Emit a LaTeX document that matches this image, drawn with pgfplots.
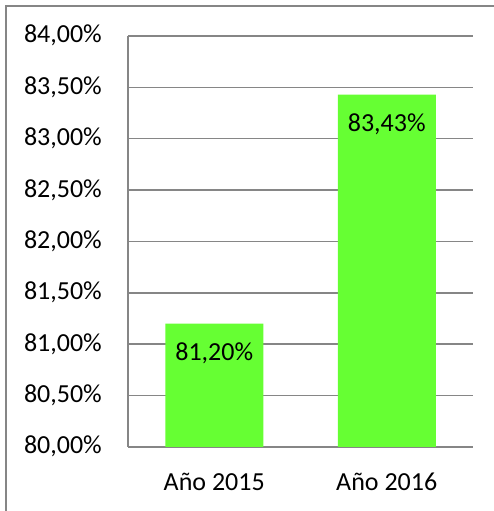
\documentclass[border=0pt]{standalone}
\usepackage{fontspec}
\setmainfont{Carlito}
\usepackage{pgfplots}
\pgfplotsset{compat=1.18}
\definecolor{barg}{RGB}{102,255,51}
\definecolor{gridg}{RGB}{134,134,134}
\begin{document}
\fontsize{26pt}{31pt}\selectfont
\begin{tikzpicture}[x=1pt,y=1pt]
\useasboundingbox (0,0) rectangle (494,511);
\draw[gridg, line width=1.5pt] (6,-5) -- (6,505) -- (500,505);
\begin{axis}[
  at={(128pt,64pt)}, anchor=south west,
  scale only axis, width=345pt, height=411pt,
  xmin=-0.5, xmax=1.5, ymin=80, ymax=84,
  ybar, bar width=98pt,
  ytick={80,80.5,81,81.5,82,82.5,83,83.5,84},
  xtick={0,1}, xticklabels={Año 2015, Año 2016},
  axis lines*=left,
  axis line style={gridg, line width=1.5pt},
  ymajorgrids, grid style={gridg, line width=1.5pt},
  major tick length=0pt,
  /pgf/number format/assume math mode=true,
  yticklabel={\pgfmathprintnumber[fixed,fixed zerofill,precision=2,use comma]{\tick}\%},
  yticklabel style={anchor=base east, inner sep=0pt, xshift=-26pt, yshift=-7pt},
  xticklabel style={anchor=base, inner sep=0pt, yshift=-43pt},
  tick label style={font=\fontsize{26pt}{31pt}\selectfont, text=black},
]
\addplot[fill=barg, draw=none, point meta=y,
  nodes near coords={\pgfmathprintnumber[fixed,fixed zerofill,precision=2,use comma,assume math mode=true]{\pgfplotspointmeta}\%},
  every node near coord/.append style={anchor=base, inner sep=0pt, yshift=-37pt, font=\fontsize{26pt}{31pt}\selectfont, text=black}]
  coordinates {(0,81.20) (1,83.43)};
\end{axis}
\end{tikzpicture}
\end{document}
